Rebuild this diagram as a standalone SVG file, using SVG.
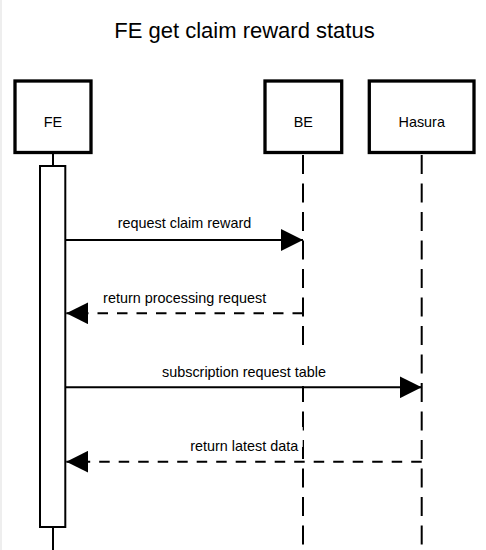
<svg xmlns="http://www.w3.org/2000/svg" width="486" height="550" viewBox="0 0 486 550">
  <style>
    text { font-family: "Liberation Sans", Arial, sans-serif; fill: #000; }
    .title { font-size: 22px; text-anchor: middle; }
    .lbl { font-size: 14.4px; text-anchor: middle; }
    .actor { fill: #fff; stroke: #000; stroke-width: 3.3; }
    .life { stroke: #000; stroke-width: 2; fill: none; stroke-dasharray: 19 9.5; }
    .solid { stroke: #000; stroke-width: 2; fill: none; }
    .msg { stroke: #000; stroke-width: 2; fill: none; marker-end: url(#arr); }
    .ret { stroke: #000; stroke-width: 2; fill: none; stroke-dasharray: 10.5 9; marker-end: url(#arr); }
    .act { fill: #fff; stroke: #000; stroke-width: 2; }
    .bg { fill: #fff; stroke: none; }
  </style>
  <defs>
    <marker id="arr" markerUnits="userSpaceOnUse" markerWidth="22" markerHeight="22" refX="22" refY="11" orient="auto" viewBox="0 0 22 22">
      <path d="M0,0 L22,11 L0,22 Z" fill="#000"/>
    </marker>
  </defs>
  <rect x="0" y="0" width="486" height="550" fill="#fff"/>
  <rect x="0" y="0" width="2" height="550" fill="#eeeeee"/>
  <text class="title" x="244.5" y="37.7">FE get claim reward status</text>

  <g id="lifelines">
    <line class="solid" x1="53" y1="154" x2="53" y2="166"/>
    <line class="solid" x1="53" y1="528" x2="53" y2="550"/>
    <line class="life" x1="303" y1="155" x2="303" y2="550"/>
    <line class="life" x1="421.7" y1="155" x2="421.7" y2="550"/>
  </g>

  <g id="FE">
    <rect class="actor" x="15" y="81" width="76" height="71.5"/>
    <text class="lbl" x="53" y="127">FE</text>
  </g>
  <g id="BE">
    <rect class="actor" x="265" y="81" width="76.7" height="71.5"/>
    <text class="lbl" x="303.3" y="127">BE</text>
  </g>
  <g id="Hasura">
    <rect class="actor" x="369.3" y="81" width="104.7" height="71.5"/>
    <text class="lbl" x="421.7" y="127">Hasura</text>
  </g>
  <g id="FE-activation">
    <rect class="act" x="40" y="166" width="25.3" height="361"/>
  </g>

  <g id="connectors">
    <line class="msg" x1="66" y1="240" x2="303" y2="240"/>
    <text class="lbl" x="184.5" y="228.3">request claim reward</text>

    <polyline class="ret" points="303,313.3 66.3,313.3"/>
    <text class="lbl" x="184.7" y="303.3">return processing request</text>

    <rect class="bg" x="160" y="350" width="168" height="36"/>
    <line class="msg" x1="66" y1="387.3" x2="421.7" y2="387.3"/>
    <text class="lbl" x="244" y="376.7">subscription request table</text>

    <rect class="bg" x="188" y="427" width="114.7" height="20"/>
    <polyline class="ret" points="421.7,461.7 66.3,461.7"/>
    <text class="lbl" x="244.2" y="450.7">return latest data</text>
  </g>
</svg>
